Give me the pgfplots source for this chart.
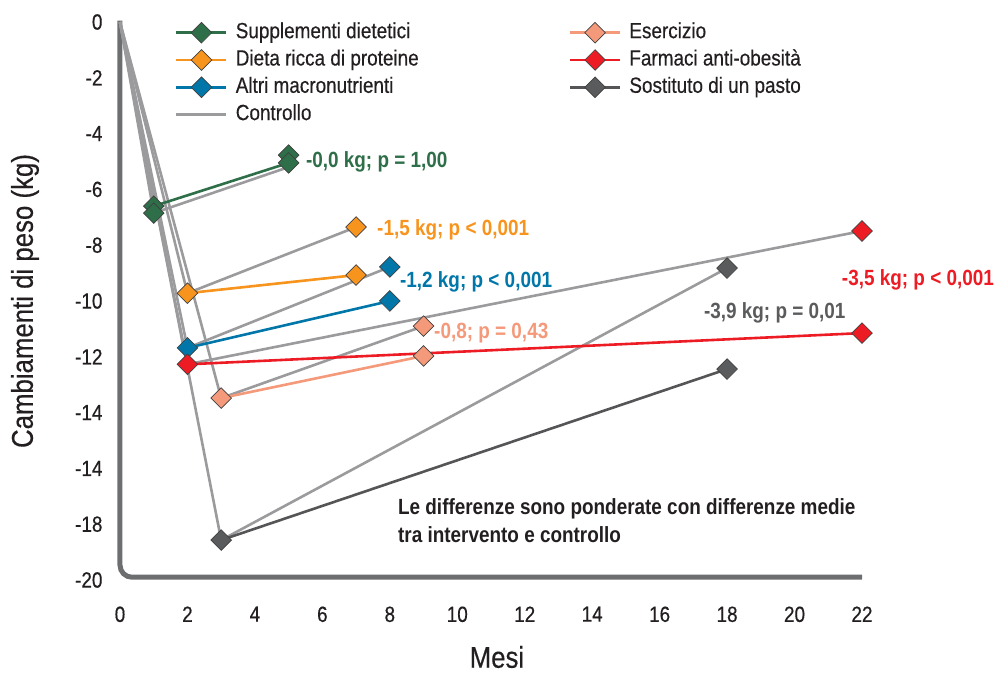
\documentclass[border=0pt]{standalone}
\usepackage{fontspec}
\setmainfont{Liberation Sans}[FakeStretch=0.86, UprightFeatures={FakeBold=0.4}]
\usepackage{pgfplots}
\pgfplotsset{compat=1.18}
\definecolor{cgreen}{RGB}{46,110,72}
\definecolor{corange}{RGB}{247,148,29}
\definecolor{cblue}{RGB}{0,119,168}
\definecolor{csalmon}{RGB}{244,153,122}
\definecolor{cred}{RGB}{237,28,36}
\definecolor{cdark}{RGB}{90,91,93}
\definecolor{cdarkline}{RGB}{85,85,87}
\definecolor{cctrl}{RGB}{155,155,158}
\definecolor{caxis}{RGB}{109,110,112}
\definecolor{ctext}{RGB}{35,31,32}
\pgfplotsset{
  ctrl/.style={cctrl, line width=2.6pt, forget plot},
  intv/.style={#1, line width=2.6pt, forget plot},
  mk/.style={only marks, forget plot, mark=square*, mark size=7.3pt, color=#1,
     mark options={rotate=45, fill=#1, draw=black!75, line width=0.7pt}},
}
\tikzset{
  ann/.style={anchor=base west, inner sep=0pt, text=#1, font=\bfseries\fontsize{22}{26}\selectfont},
}
\begin{document}
\begin{tikzpicture}
\useasboundingbox (-120pt,-94pt) rectangle (875pt,580pt);
\begin{axis}[
  scale only axis, width=742pt, height=558pt,
  xmin=0, xmax=22, ymin=-20, ymax=0,
  clip=false,
  axis line style={draw=none},
  tick style={draw=none},
  major tick length=0pt,
  xtick pos=bottom, ytick pos=left,
  xtick={0,2,4,6,8,10,12,14,16,18,20,22},
  xticklabels={0,2,4,6,8,10,12,14,16,18,20,22},
  ytick={-20,-18,-16,-14,-12,-10,-8,-6,-4,-2,0},
  yticklabels={-20,-18,-14,-14,-12,-10,-8,-6,-4,-2,0},
  /pgf/number format/assume math mode=true,
  ticklabel style={font=\fontsize{22}{26}\selectfont, text=ctext},
  xticklabel style={yshift=-23pt},
  yticklabel style={xshift=-14pt},
  xlabel={Mesi}, ylabel={Cambiamenti di peso (kg)},
  label style={font=\fontsize{30}{36}\selectfont, text=ctext, inner sep=0pt},
  xlabel style={at={(axis description cs:0.508,0)}, anchor=center, yshift=-77pt},
  ylabel style={at={(axis description cs:-0.128,0.5)}, anchor=center},
  legend columns=2,
  legend cell align=left,
  legend image code/.code={\draw[#1] (0pt,0pt) -- (50pt,0pt); \draw[#1] plot coordinates {(25pt,0pt)};},
  legend style={at={(axis description cs:0.0741,1)}, anchor=north west, draw=none, fill=none,
    inner sep=0pt, row sep=6.3pt, font=\fontsize{22}{26}\selectfont, text=ctext,
    nodes={inner sep=0pt, text height=16pt, text depth=5pt},
    /tikz/every odd column/.append style={column sep=8pt}},
]
\draw[caxis, line width=5pt, rounded corners=12pt] (axis cs:0,0.05) -- (axis cs:0,-19.9) -- (axis cs:22,-19.9);

% control lines from origin
\addplot[ctrl] coordinates {(0,0) (1,-6.6)};
\addplot[ctrl] coordinates {(0,0) (1,-6.85)};
\addplot[ctrl] coordinates {(0,0) (2,-9.72)};
\addplot[ctrl] coordinates {(0,0) (2,-11.68)};
\addplot[ctrl] coordinates {(0,0) (2,-12.27)};
\addplot[ctrl] coordinates {(0,0) (3,-13.48)};
\addplot[ctrl] coordinates {(0,0) (3,-18.57)};
% control second segments
\addplot[ctrl] coordinates {(1,-6.85) (5,-5.2)};
\addplot[ctrl] coordinates {(2,-9.72) (7,-7.35)};
\addplot[ctrl] coordinates {(2,-11.68) (8,-8.78)};
\addplot[ctrl] coordinates {(2,-12.27) (22,-7.49)};
\addplot[ctrl] coordinates {(3,-13.48) (9,-10.9)};
\addplot[ctrl] coordinates {(3,-18.57) (18,-8.82)};
% intervention segments
\addplot[intv=cgreen] coordinates {(1,-6.6) (5,-5.05)};
\addplot[intv=corange] coordinates {(2,-9.72) (7,-9.07)};
\addplot[intv=cblue] coordinates {(2,-11.68) (8,-10.0)};
\addplot[intv=cred] coordinates {(2,-12.27) (22,-11.15)};
\addplot[intv=csalmon] coordinates {(3,-13.48) (9,-11.97)};
\addplot[intv=cdarkline] coordinates {(3,-18.57) (18,-12.44)};
% markers
\addplot[mk=cgreen] coordinates {(1,-6.6) (1,-6.85) (5,-4.77) (5,-5.05)};
\addplot[mk=corange] coordinates {(2,-9.72) (7,-7.35) (7,-9.07)};
\addplot[mk=cblue] coordinates {(2,-11.68) (8,-8.78) (8,-10.0)};
\addplot[mk=cred] coordinates {(2,-12.27) (22,-7.49) (22,-11.15)};
\addplot[mk=csalmon] coordinates {(3,-13.48) (9,-10.9) (9,-11.97)};
\addplot[mk=cdark] coordinates {(3,-18.57) (18,-8.82) (18,-12.44)};

% legend
\addlegendimage{line width=2.6pt, cgreen, mark=square*, mark size=7.3pt, mark options={rotate=45, fill=cgreen, draw=black!75, line width=0.7pt}}
\addlegendentry{\makebox[333pt][l]{Supplementi dietetici}}
\addlegendimage{line width=2.6pt, csalmon, mark=square*, mark size=7.3pt, mark options={rotate=45, fill=csalmon, draw=black!75, line width=0.7pt}}
\addlegendentry{Esercizio}
\addlegendimage{line width=2.6pt, corange, mark=square*, mark size=7.3pt, mark options={rotate=45, fill=corange, draw=black!75, line width=0.7pt}}
\addlegendentry{\makebox[333pt][l]{Dieta ricca di proteine}}
\addlegendimage{line width=2.6pt, cred, mark=square*, mark size=7.3pt, mark options={rotate=45, fill=cred, draw=black!75, line width=0.7pt}}
\addlegendentry{Farmaci anti-obesità}
\addlegendimage{line width=2.6pt, cblue, mark=square*, mark size=7.3pt, mark options={rotate=45, fill=cblue, draw=black!75, line width=0.7pt}}
\addlegendentry{\makebox[333pt][l]{Altri macronutrienti}}
\addlegendimage{line width=2.6pt, cdarkline, mark=square*, mark size=7.3pt, mark options={rotate=45, fill=cdark, draw=black!75, line width=0.7pt}}
\addlegendentry{Sostituto di un pasto}
\addlegendimage{line width=2.6pt, cctrl}
\addlegendentry{\makebox[333pt][l]{Controllo}}

% annotations
\node[ann=cgreen] at (axis cs:5.51,-5.23) {-0,0 kg; p = 1,00};
\node[ann=corange] at (axis cs:7.62,-7.67) {-1,5 kg; p < 0,001};
\node[ann=cblue] at (axis cs:8.30,-9.53) {-1,2 kg; p < 0,001};
\node[ann=csalmon] at (axis cs:9.31,-11.33) {-0,8; p = 0,43};
\node[ann=cdark] at (axis cs:17.31,-10.61) {-3,9 kg; p = 0,01};
\node[ann=cred] at (axis cs:21.40,-9.43) {-3,5 kg; p < 0,001};
\node[anchor=base west, inner sep=0pt, align=left, text=ctext, font=\bfseries\fontsize{22}{28}\selectfont] at (axis cs:8.24,-18.67) {Le differenze sono ponderate con differenze medie\\tra intervento e controllo};
\end{axis}
\end{tikzpicture}
\end{document}
